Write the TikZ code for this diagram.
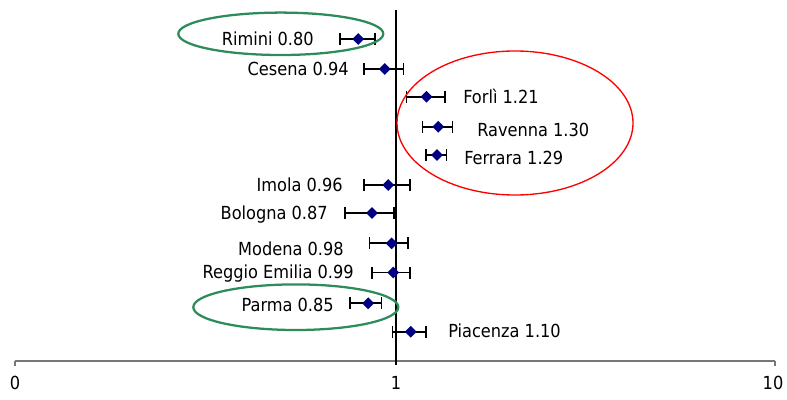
\documentclass[tikz,border=0pt]{standalone}
\usepackage{fontspec}
\setmainfont{DejaVu Sans Condensed}
\usetikzlibrary{positioning, shapes.geometric, arrows.meta, calc}
\definecolor{ptblue}{RGB}{0,0,128}
\definecolor{ringgreen}{RGB}{46,140,90}
\definecolor{axisgrey}{RGB}{120,120,120}
\tikzset{
  forest/.style={
	x=0.75pt, y=-0.75pt, % one unit is one pixel of the plot
	font=\fontsize{13.5}{16}\selectfont,
  },
  estimate/.style={diamond, fill=ptblue, inner sep=0pt, minimum width=9pt, minimum height=9pt},
  ci/.style={line width=1.3pt, {Bar[width=9pt]}-{Bar[width=9pt]}},
  city/.style={inner sep=0pt},
  ring/.style={line width=1.7pt, draw=ringgreen},
}

\begin{document}
\begin{tikzpicture}[forest]
	  \useasboundingbox (0,0) rectangle (787,399);

	  % axis and line of no effect
	  \coordinate (ax0) at (15,361);
	  \coordinate (ax10) at (775,361);
	  \coordinate (onetop) at (396,10);
	  \coordinate (onebot) at (396,365);
	  \draw[axisgrey, line width=1.2pt] (ax0) -- (ax10);
	  \draw[axisgrey, line width=1pt] (ax0) -- ++(0,5) (ax10) -- ++(0,5);
	  \draw[black, line width=0.8pt] (onetop) -- (onebot);
	  \node[below=8pt of ax0] (tick0) {0};
	  \node[below=5pt of onebot] (tick1) {1};
	  \node[below=8pt of ax10, xshift=-1.5pt] (tick10) {10};

	  % estimates with confidence intervals
	  \foreach \n/\v/\lo/\hi/\y/\side/\lx/\ly [count=\i] in {
		  Rimini/0.80/0.712/0.891/39/east/314/39,
		  Cesena/0.94/0.825/1.058/69/east/349/69,
		  Forlì/1.21/1.067/1.36/96.7/west/463/96.7,
		  Ravenna/1.30/1.176/1.424/126.7/west/477/130,
		  Ferrara/1.29/1.199/1.373/155/west/464/157.7,
		  Imola/0.96/0.825/1.10/185/east/343/185,
		  Bologna/0.87/0.736/1.00/213/east/328/212.7,
		  Modena/0.98/0.853/1.087/243.3/east/344/249,
		  Reggio Emilia/0.99/0.865/1.10/272.5/east/354/272.3,
		  Parma/0.85/0.758/0.926/303.3/east/334/305,
		  Piacenza/1.10/0.98/1.212/331.7/west/448/331}{
		\coordinate (lo\i) at ({395+380*log10(\lo)},\y);
		\coordinate (hi\i) at ({395+380*log10(\hi)},\y);
		\draw[ci] (lo\i) -- (hi\i);
		\node[estimate] (est\i) at ({395+380*log10(\v)},\y) {};
		\node[city, anchor=base \side] (city\i) at (\lx,\ly+6.5) {\n{} \v};
	  }

	  % rings round the extreme areas
	  \draw[ring] (280.8,33.8) ellipse [x radius=102.5, y radius=21.2];
	  \draw[ring] (295.8,307.2) ellipse [x radius=102.5, y radius=22.8];
	  \draw[red, line width=1pt] (515,123) ellipse [x radius=118, y radius=72];
\end{tikzpicture}
\end{document}
